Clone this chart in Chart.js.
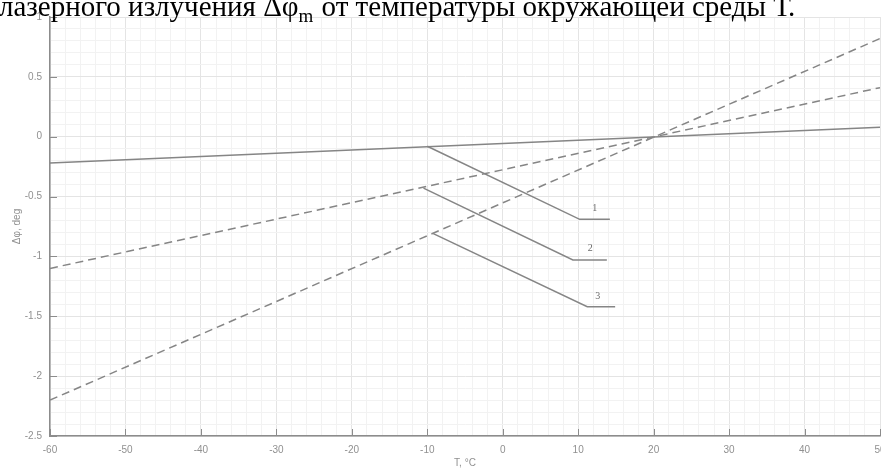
<!DOCTYPE html>
<html>
<head>
<meta charset="utf-8">
<script src="https://cdn.jsdelivr.net/npm/chart.js@4.4.1/dist/chart.umd.min.js"></script>
<style>
  html, body { margin: 0; padding: 0; background: #fff; }
  canvas { display: block; }
</style>
</head>
<body>
<canvas id="phaseChart" width="881" height="469"></canvas>
<script>
// temperature range, deg C
const tempEnds = [-60, 50];
// curves (all cross at T = 20)
const solidCurve = [-0.22, 0.08];
const dashCurveA = [-1.1, 0.41];
const dashCurveB = [-2.2, 0.82];

// leader lines for the curve numbers
const leader1T = [-10, 10.2, 14.2];
const leader1V = [-0.08, -0.69, -0.69];
const leader2T = [-10.5, 9.3, 13.8];
const leader2V = [-0.43, -1.03, -1.03];
const leader3T = [-9.2, 11.2, 14.9];
const leader3V = [-0.81, -1.42, -1.42];

const markNames = ['1', '2', '3'];
const markT = [12.2, 11.6, 12.6];
const markV = [-0.6, -0.93, -1.33];

const xMajor = [-60, -50, -40, -30, -20, -10, 0, 10, 20, 30, 40, 50];
const yMajor = [1, 0.5, 0, -0.5, -1, -1.5, -2, -2.5];

const caption = ['лазерного излучения Δφ', 'm', ' от температуры окружающей среды Т.'];

function pts(xs, ys) {
    return xs.map((x, i) => ({ x: x, y: ys[i] }));
}

function lineSet(xs, ys, dash) {
    return {
        data: pts(xs, ys),
        borderColor: '#858585',
        borderWidth: 1.5,
        borderDash: dash || [],
        pointRadius: 0,
        fill: false,
        tension: 0
    };
}

const extras = {
    id: 'extras',
    afterDraw(chart) {
        const ctx = chart.ctx;
        const xs = chart.scales.x, ys = chart.scales.y;
        const area = chart.chartArea;

        // inward tick marks
        ctx.save();
        ctx.strokeStyle = '#8c8c8c';
        ctx.lineWidth = 1;
        ctx.beginPath();
        xMajor.forEach(v => {
            const px = Math.round(xs.getPixelForValue(v)) + 0.5;
            ctx.moveTo(px, area.bottom);
            ctx.lineTo(px, area.bottom - 7);
        });
        yMajor.forEach(v => {
            const py = Math.round(ys.getPixelForValue(v)) + 0.5;
            ctx.moveTo(area.left, py);
            ctx.lineTo(area.left + 7, py);
        });
        ctx.stroke();

        // curve numbers
        ctx.fillStyle = '#6a6a6a';
        ctx.font = '10px "Liberation Serif"';
        ctx.textAlign = 'center';
        ctx.textBaseline = 'middle';
        markNames.forEach((m, i) => {
            ctx.fillText(m, xs.getPixelForValue(markT[i]), ys.getPixelForValue(markV[i]));
        });

        // caption text cut at the top of the page
        ctx.fillStyle = '#000';
        ctx.textAlign = 'left';
        ctx.textBaseline = 'alphabetic';
        let cx = -1;
        const base = 16;
        ctx.font = '29px "Liberation Serif"';
        ctx.fillText(caption[0], cx, base);
        cx += ctx.measureText(caption[0]).width;
        ctx.font = '19px "Liberation Serif"';
        ctx.fillText(caption[1], cx, base + 6);
        cx += ctx.measureText(caption[1]).width + 1;
        ctx.font = '29px "Liberation Serif"';
        ctx.fillText(caption[2], cx, base);
        ctx.restore();
    }
};

function isMajorX(v) { return Math.abs(v % 10) < 1e-6; }
function isMajorY(v) { return Math.abs(Math.round(v * 10) % 5) === 0; }

const axisFont = { family: 'Liberation Sans', size: 10 };

new Chart(document.getElementById('phaseChart'), {
    type: 'line',
    data: {
        datasets: [
            lineSet(tempEnds, solidCurve),
            lineSet(tempEnds, dashCurveA, [8, 5]),
            lineSet(tempEnds, dashCurveB, [8, 5]),
            lineSet(leader1T, leader1V),
            lineSet(leader2T, leader2V),
            lineSet(leader3T, leader3V)
        ]
    },
    options: {
        responsive: false,
        animation: false,
        devicePixelRatio: 1,
        layout: { padding: { top: 17, right: 1, left: 0, bottom: 0 } },
        plugins: { legend: { display: false }, tooltip: { enabled: false } },
        scales: {
            x: {
                type: 'linear',
                min: -60,
                max: 50,
                afterFit: s => { s.height = 33; s.paddingLeft = 0; s.paddingRight = 0; },
                border: { display: true, color: '#8c8c8c', width: 1.5 },
                grid: {
                    drawTicks: false,
                    color: c => isMajorX(c.tick.value) ? '#e4e4e4' : '#f2f2f2',
                    lineWidth: 1
                },
                ticks: {
                    stepSize: 2,
                    autoSkip: false,
                    maxRotation: 0,
                    padding: 8,
                    color: '#909090',
                    font: axisFont,
                    callback: v => isMajorX(v) ? String(v) : ''
                },
                title: {
                    display: true,
                    text: 'T, °C',
                    color: '#909090',
                    font: axisFont,
                    padding: { top: 0, bottom: 0 }
                }
            },
            y: {
                type: 'linear',
                min: -2.5,
                max: 1,
                afterFit: s => { s.width = 50; s.paddingTop = 0; s.paddingBottom = 0; },
                border: { display: true, color: '#8c8c8c', width: 1.5 },
                grid: {
                    drawTicks: false,
                    color: c => isMajorY(c.tick.value) ? '#e4e4e4' : '#f2f2f2',
                    lineWidth: 1
                },
                ticks: {
                    stepSize: 0.1,
                    autoSkip: false,
                    padding: 8,
                    color: '#909090',
                    font: axisFont,
                    callback: v => {
                        const r = Math.round(v * 10);
                        return r % 5 === 0 ? String(r / 10) : '';
                    }
                },
                title: {
                    display: true,
                    text: 'Δφ, deg',
                    color: '#909090',
                    font: axisFont,
                    padding: { top: 11, bottom: 0 }
                }
            }
        }
    },
    plugins: [extras]
});
</script>
</body>
</html>
